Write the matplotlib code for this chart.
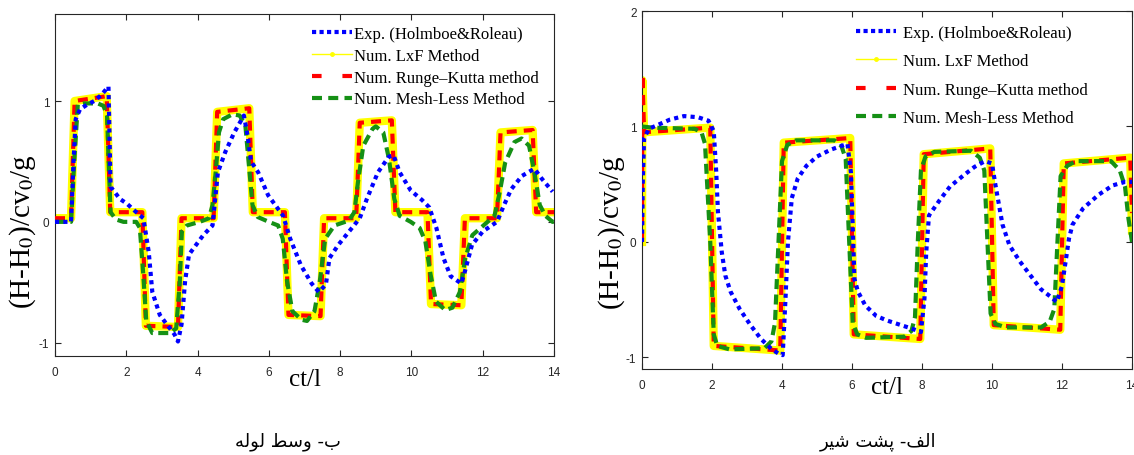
import numpy as np
import matplotlib
matplotlib.use("Agg")
import matplotlib.pyplot as plt
from matplotlib.lines import Line2D

##---------------------------------------------------------------------------##
##  head transient (H-H0)/(c v0/g) vs ct/l : mid pipe (left), at valve (right)
##---------------------------------------------------------------------------##

labels = ["Exp. (Holmboe&Roleau)", "Num. LxF Method",
          "Num. Runge\u2013Kutta method", "Num. Mesh-Less Method"]

# ---- mid pipe ----
mid_exp_t = [0, 0.45, 0.52, 0.58, 0.7, 0.9, 1.1, 1.3, 1.5, 1.56,
             1.82, 2.02, 2.28, 2.48, 2.63, 2.73, 2.94, 3.14, 3.35, 3.45,
             3.55, 3.65, 3.76, 3.96, 4.16, 4.42, 4.57, 4.78, 5.03, 5.3,
             5.4, 5.5, 5.7, 5.98, 6.4, 6.6, 6.9, 7.2, 7.4, 7.6,
             7.7, 7.95, 8.25, 8.55, 8.75, 9.06, 9.37, 9.5, 9.67, 9.98,
             10.3, 10.5, 10.7, 10.9, 11.1, 11.4, 11.5, 11.7, 12.0, 12.4,
             12.6, 12.8, 13.1, 13.45, 13.65, 13.96]
mid_exp_v = [0.0, 0.0, 0.5, 0.85, 0.93, 0.97, 1.0, 1.05, 1.12, 0.29,
             0.19, 0.15, 0.08, 0.03, -0.25, -0.58, -0.77, -0.85, -0.93, -0.99,
             -0.85, -0.49, -0.27, -0.19, -0.11, -0.03, 0.41, 0.58, 0.74, 0.88,
             0.72, 0.5, 0.41, 0.22, 0.05, -0.14, -0.36, -0.51, -0.58, -0.52,
             -0.3, -0.19, -0.08, 0.03, 0.19, 0.41, 0.54, 0.55, 0.41, 0.26,
             0.18, 0.12, -0.05, -0.3, -0.45, -0.51, -0.41, -0.19, -0.08, 0.0,
             0.14, 0.27, 0.38, 0.44, 0.36, 0.25]

mid_lxf_t = [0, 0.45, 0.55, 1.45, 1.55, 2.45, 2.55, 3.45, 3.55, 4.45,
             4.55, 5.45, 5.55, 6.45, 6.55, 7.45, 7.55, 8.45, 8.55, 9.45,
             9.55, 10.45, 10.55, 11.4, 11.5, 12.4, 12.5, 13.4, 13.5, 14]
mid_lxf_v = [0.03, 0.03, 1.00, 1.04, 0.08, 0.08, -0.86, -0.87, 0.03, 0.03,
             0.91, 0.94, 0.08, 0.08, -0.77, -0.78, 0.03, 0.03, 0.82, 0.84,
             0.08, 0.08, -0.68, -0.69, 0.03, 0.03, 0.74, 0.76, 0.08, 0.08]

mid_rk_t = [0, 0.45, 0.55, 1.45, 1.55, 2.45, 2.55, 3.45, 3.55, 4.45,
            4.55, 5.45, 5.55, 6.45, 6.55, 7.45, 7.55, 8.45, 8.55, 9.45,
            9.55, 10.45, 10.55, 11.4, 11.5, 12.4, 12.5, 13.4, 13.5, 14]
mid_rk_v = [0.03, 0.03, 1.00, 1.04, 0.08, 0.08, -0.86, -0.87, 0.03, 0.03,
            0.91, 0.94, 0.08, 0.08, -0.77, -0.78, 0.03, 0.03, 0.82, 0.84,
            0.08, 0.08, -0.68, -0.69, 0.03, 0.03, 0.74, 0.76, 0.08, 0.08]

mid_ml_t = [0, 0.45, 0.54, 0.64, 0.8, 1.2, 1.36, 1.46, 1.51, 1.56,
            1.71, 1.92, 2.28, 2.38, 2.48, 2.56, 2.73, 3.24, 3.4, 3.5,
            3.56, 3.7, 4.06, 4.32, 4.42, 4.52, 4.6, 4.72, 4.98, 5.18,
            5.34, 5.44, 5.54, 5.69, 6.0, 6.26, 6.39, 6.51, 6.66, 6.92,
            7.07, 7.28, 7.43, 7.58, 7.84, 8.24, 8.4, 8.5, 8.65, 8.91,
            9.0, 9.21, 9.37, 9.52, 9.67, 9.98, 10.23, 10.39, 10.54, 10.69,
            10.95, 11.15, 11.36, 11.51, 11.71, 12.02, 12.33, 12.48, 12.63, 12.89,
            13.09, 13.3, 13.45, 13.6, 13.76, 13.96, 14.0]
mid_ml_v = [0.0, 0.0, 0.5, 0.97, 0.98, 0.98, 0.96, 0.88, 0.45, 0.08,
            0.02, 0.0, 0.0, -0.05, -0.45, -0.82, -0.92, -0.92, -0.88, -0.5,
            -0.08, -0.03, 0.0, 0.03, 0.14, 0.45, 0.74, 0.85, 0.89, 0.88,
            0.80, 0.47, 0.14, 0.04, 0.0, -0.03, -0.14, -0.49, -0.74, -0.81,
            -0.82, -0.74, -0.49, -0.14, -0.03, 0.01, 0.08, 0.33, 0.63, 0.77,
            0.79, 0.74, 0.52, 0.19, 0.05, 0.0, -0.05, -0.16, -0.44, -0.66,
            -0.73, -0.71, -0.58, -0.30, -0.11, -0.03, 0.05, 0.25, 0.49, 0.66,
            0.69, 0.63, 0.41, 0.14, 0.05, 0.0, 0.0]

# ---- behind the valve ----
valve_exp_t = [0, 0.02, 0.06, 0.2, 0.5, 0.8, 1.2, 1.6, 1.9, 2.05,
               2.12, 2.17, 2.28, 2.38, 2.53, 2.79, 3.1, 3.4, 3.71, 3.92,
               4.02, 4.1, 4.17, 4.28, 4.45, 4.7, 5.0, 5.4, 5.87, 5.97,
               6.07, 6.17, 6.38, 6.69, 7.0, 7.4, 7.71, 7.97, 8.07, 8.12,
               8.2, 8.5, 8.8, 9.2, 9.5, 9.8, 10.0, 10.1, 10.3, 10.5,
               10.8, 11.1, 11.4, 11.7, 11.85, 12.0, 12.2, 12.3, 12.6, 13.05,
               13.45, 13.8, 14.0]
valve_exp_v = [0.0, 0.5, 0.9, 0.98, 1.02, 1.06, 1.09, 1.08, 1.05, 0.96,
               0.61, 0.26, -0.09, -0.29, -0.43, -0.58, -0.72, -0.84, -0.93, -0.97,
               -0.98, -0.49, 0.0, 0.38, 0.55, 0.66, 0.74, 0.80, 0.85, 0.6,
               -0.32, -0.43, -0.55, -0.64, -0.68, -0.72, -0.75, -0.78, -0.49, -0.09,
               0.23, 0.36, 0.48, 0.58, 0.65, 0.70, 0.68, 0.49, 0.15, -0.03,
               -0.17, -0.29, -0.41, -0.48, -0.52, -0.38, 0.03, 0.15, 0.29, 0.41,
               0.49, 0.52, 0.52]

valve_lxf_t = [0, 0.01, 0.06, 1.95, 2.05, 3.95, 4.05, 5.95, 6.05, 7.95,
               8.05, 9.95, 10.05, 11.95, 12.05, 13.95, 14.0]
valve_lxf_v = [0.0, 1.40, 0.95, 0.99, -0.90, -0.94, 0.86, 0.90, -0.80, -0.84,
               0.76, 0.81, -0.72, -0.76, 0.68, 0.73, 0.10]

valve_rk_t = [0, 0.01, 0.06, 1.95, 2.05, 3.95, 4.05, 5.95, 6.05, 7.95,
              8.05, 9.95, 10.05, 11.95, 12.05, 13.95, 14.0]
valve_rk_v = [0.0, 1.45, 0.95, 0.99, -0.90, -0.94, 0.86, 0.90, -0.80, -0.84,
              0.76, 0.81, -0.72, -0.76, 0.68, 0.73, 0.25]

valve_ml_t = [0, 0.3, 1.5, 1.7, 1.8, 1.95, 2.05, 2.15, 2.5, 3.5,
              3.7, 3.8, 3.9, 4.0, 4.15, 4.4, 5.5, 5.7, 5.82, 5.92,
              6.02, 6.15, 6.4, 7.5, 7.7, 7.8, 7.88, 7.97, 8.1, 8.35,
              9.4, 9.65, 9.78, 9.87, 9.96, 10.1, 10.4, 11.4, 11.65, 11.78,
              11.87, 11.96, 12.15, 12.4, 13.4, 13.65, 13.8, 13.9, 14.0]
valve_ml_v = [1.00, 0.99, 0.98, 0.95, 0.85, 0.0, -0.80, -0.90, -0.93, -0.92,
              -0.86, -0.70, 0.0, 0.70, 0.84, 0.88, 0.88, 0.83, 0.72, 0.0,
              -0.70, -0.80, -0.83, -0.82, -0.77, -0.65, 0.0, 0.62, 0.74, 0.78,
              0.79, 0.73, 0.62, 0.0, -0.62, -0.71, -0.74, -0.74, -0.69, -0.58,
              0.0, 0.57, 0.66, 0.70, 0.70, 0.62, 0.48, 0.2, 0.0]

# captions in Persian; glyphs given as presentation forms in visual order
# (matplotlib does no Arabic shaping / bidi)
cap_mid = "\uFEEA\uFEDF\uFEEE\uFEDF \uFEC2\uFEB3\uFEED -\uFE8F"          # ب- وسط لوله
cap_valve = "\uFEAE\uFBFF\uFEB7 \uFE96\uFEB8\uFB58 -\uFED2\uFEDF\uFE8D"  # الف- پشت شیر

C_EXP = "#0000ff"
C_LXF = "#ffff00"
C_RK = "#ff0000"
C_ML = "#159015"
AXC = "#262626"

plt.rcParams["mathtext.fontset"] = "stix"
plt.rcParams["axes.unicode_minus"] = False

fig = plt.figure(figsize=(11.34, 4.56), dpi=100)
ax1 = fig.add_axes([55/1134, 99/456, 499/1134, 342/456])
ax2 = fig.add_axes([642/1134, 86/456, 490/1134, 358/456])


def draw(ax, et, ev, lt, lv, rt, rv, mt, mv):
    ax.plot(lt, lv, color=C_LXF, lw=6, solid_joinstyle="round", zorder=2)
    ax.plot(rt, rv, color=C_RK, lw=3, ls=(0, (2.4, 1.7)), zorder=3)
    ax.plot(mt, mv, color=C_ML, lw=3, ls=(0, (2.4, 1.3)), zorder=4)
    ax.plot(et, ev, color=C_EXP, lw=3, ls=(0, (1, 1)), zorder=5)
    ax.set_xlim(0, 14)
    ax.set_xticks(np.arange(0, 15, 2))
    ax.tick_params(direction="in", top=True, right=True, length=4, width=0.8,
                   colors=AXC, labelsize=8.5)
    ax.tick_params(axis="x", pad=7)
    ax.tick_params(axis="y", pad=4)
    for lab in ax.get_xticklabels() + ax.get_yticklabels():
        lab.set_fontfamily("Liberation Sans")
    for s in ax.spines.values():
        s.set_color(AXC)
        s.set_linewidth(0.8)
    ax.set_xlabel("ct/l", fontfamily="Liberation Serif", fontsize=18, va="center")
    ax.set_ylabel("(H-H$_0$)/cv$_0$/g", fontfamily="Liberation Serif",
                  fontsize=21, va="center")


draw(ax1, mid_exp_t, mid_exp_v, mid_lxf_t, mid_lxf_v,
     mid_rk_t, mid_rk_v, mid_ml_t, mid_ml_v)
ax1.set_ylim(-1.11, 1.72)
ax1.set_yticks([-1, 0, 1])
ax1.xaxis.set_label_coords(0.5, -0.067)
ax1.yaxis.set_label_coords(-0.064, 0.368)

draw(ax2, valve_exp_t, valve_exp_v, valve_lxf_t, valve_lxf_v,
     valve_rk_t, valve_rk_v, valve_ml_t, valve_ml_v)
ax2.set_ylim(-1.1, 2.0)
ax2.set_yticks([-1, 0, 1, 2])
ax2.xaxis.set_label_coords(0.5, -0.05)
ax2.yaxis.set_label_coords(-0.061, 0.383)

# legend keys
handles = [Line2D([], [], color=C_EXP, lw=3, ls=(0, (1, 0.8))),
           Line2D([], [], color=C_LXF, lw=1, marker=".", ms=5),
           Line2D([], [], color=C_RK, lw=3, ls=(0, (2.3, 5.0))),
           Line2D([], [], color=C_ML, lw=3, ls=(0, (2.4, 1.5)))]

ax1.legend(handles, labels, loc="upper left", bbox_to_anchor=(0.515, 0.965),
           frameon=False, prop={"family": "Liberation Serif", "size": 12},
           handlelength=2.4, handletextpad=0.15, labelspacing=0.35,
           borderpad=0, borderaxespad=0)
ax2.legend(handles, labels, loc="upper left", bbox_to_anchor=(0.437, 0.962),
           frameon=False, prop={"family": "Liberation Serif", "size": 12},
           handlelength=2.4, handletextpad=0.4, labelspacing=0.75,
           borderpad=0, borderaxespad=0)

fig.text(288/1134, 1 - 442/456, cap_mid, ha="center", va="center",
         fontfamily="DejaVu Sans", fontsize=13)
fig.text(878/1134, 1 - 442/456, cap_valve, ha="center", va="center",
         fontfamily="DejaVu Sans", fontsize=13)

fig.savefig("out.png", dpi=100)
